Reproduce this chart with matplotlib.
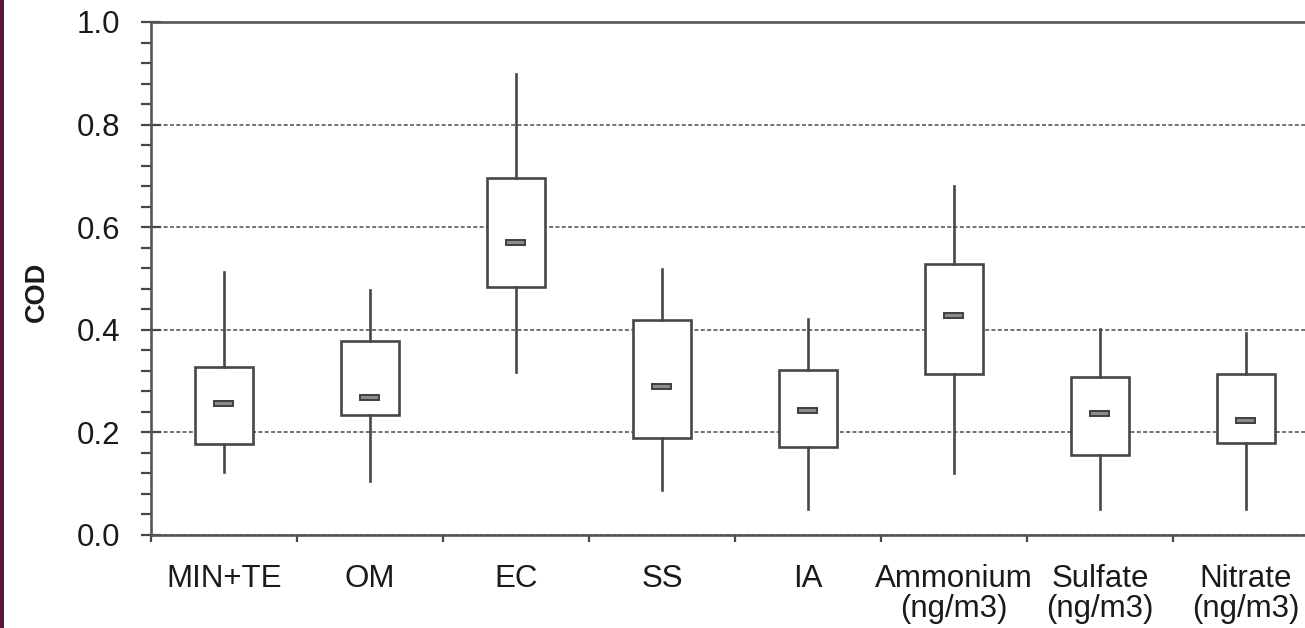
"""
COD box plot for the source categories and inorganic ions.
Boxes show the interquartile range, whiskers the min/max,
and a small bar marks the median.
"""

import matplotlib
matplotlib.use('Agg')
import matplotlib.pyplot as plt
from matplotlib.patches import Rectangle

plt.rcParams['font.family'] = ['Liberation Sans', 'DejaVu Sans']

CATEGORIES = ['MIN+TE', 'OM', 'EC', 'SS', 'IA',
              'Ammonium\n(ng/m3)', 'Sulfate\n(ng/m3)', 'Nitrate\n(ng/m3)']

# box statistics per category
WHIS_LO = [0.123, 0.106, 0.317, 0.087, 0.050, 0.120, 0.051, 0.051]
Q1      = [0.178, 0.233, 0.484, 0.190, 0.171, 0.313, 0.156, 0.179]
MEDIAN  = [0.257, 0.268, 0.570, 0.290, 0.243, 0.428, 0.237, 0.224]
Q3      = [0.327, 0.379, 0.695, 0.420, 0.321, 0.529, 0.307, 0.313]
WHIS_HI = [0.512, 0.477, 0.899, 0.519, 0.422, 0.681, 0.401, 0.393]

EDGE = '#474747'


def main():
    fig = plt.figure(figsize=(13.05, 6.28), dpi=100)
    fig.patch.set_facecolor('white')
    # thin dark stripe along the left edge
    fig.patches.append(Rectangle((0, 0), 0.003, 1, transform=fig.transFigure,
                                 facecolor='#5a1538', edgecolor='none'))

    ax = fig.add_axes([0.1157, 0.1481, 0.895, 0.8169])

    positions = list(range(1, len(CATEGORIES) + 1))
    stats = [dict(whislo=lo, q1=a, med=m, q3=b, whishi=hi, fliers=[])
             for lo, a, m, b, hi in zip(WHIS_LO, Q1, MEDIAN, Q3, WHIS_HI)]

    ax.bxp(stats, positions=positions, widths=0.40, patch_artist=True,
           showcaps=False, showfliers=False,
           boxprops=dict(facecolor='white', edgecolor=EDGE, linewidth=1.9),
           whiskerprops=dict(color=EDGE, linewidth=1.9),
           medianprops=dict(linewidth=0))

    # median bars
    for x, m in zip(positions, MEDIAN):
        ax.add_patch(Rectangle((x - 0.065, m - 0.005), 0.13, 0.010,
                               facecolor='#8c8c8c', edgecolor='#3f3f3f',
                               linewidth=1.4, zorder=4))

    ax.set_xlim(0.5, len(CATEGORIES) + 0.5)
    ax.set_ylim(0.0, 1.0)

    ax.set_yticks([0.0, 0.2, 0.4, 0.6, 0.8, 1.0])
    ax.set_yticks([i * 0.04 for i in range(26)], minor=True)
    ax.set_yticklabels(['0.0', '0.2', '0.4', '0.6', '0.8', '1.0'])

    # boundary ticks between categories, labels at the centres
    ax.set_xticks([p + 0.5 for p in range(0, len(CATEGORIES) + 1)])
    ax.set_xticklabels([])
    ax.set_xticks(positions, minor=True)
    ax.set_xticklabels(CATEGORIES, minor=True, fontsize=22.5, linespacing=1.0,
                       color='#1a1a1a')

    ax.tick_params(axis='y', which='major', direction='inout', length=14,
                   width=1.6, color=EDGE, labelsize=22.5, labelcolor='#1a1a1a',
                   pad=15)
    ax.tick_params(axis='y', which='minor', direction='out', length=7,
                   width=1.6, color=EDGE)
    ax.tick_params(axis='x', which='major', direction='out', length=5,
                   width=1.6, color=EDGE)
    ax.tick_params(axis='x', which='minor', length=0, pad=21)

    ax.yaxis.grid(True, which='major', linestyle=(0, (2.2, 1.3)),
                  color='#666666', linewidth=1.3)
    ax.set_axisbelow(True)

    for side in ('left', 'bottom', 'top'):
        ax.spines[side].set_color('#555555')
        ax.spines[side].set_linewidth(1.9)
    ax.spines['right'].set_visible(False)

    fig.text(37 / 1305, 1 - 292 / 628, 'COD', rotation=90, fontsize=19.5,
             fontweight='bold', ha='center', va='center', color='#1a1a1a')

    fig.savefig('out.png', dpi=100)


if __name__ == '__main__':
    main()
